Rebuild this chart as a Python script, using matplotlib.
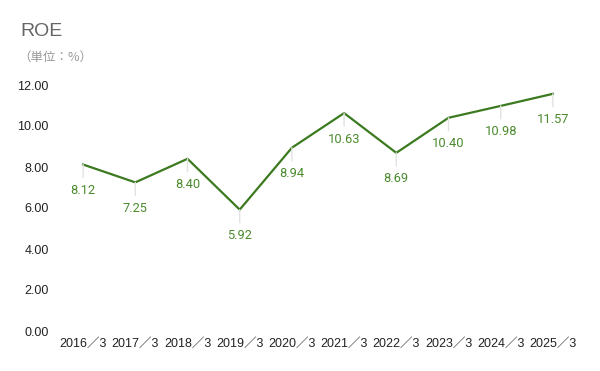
import matplotlib.pyplot as plt

years = ["2016／3", "2017／3", "2018／3", "2019／3", "2020／3",
         "2021／3", "2022／3", "2023／3", "2024／3", "2025／3"]
roe = [8.12, 7.25, 8.40, 5.92, 8.94, 10.63, 8.69, 10.40, 10.98, 11.57]
yticks = [0, 2, 4, 6, 8, 10, 12]

line_color = "#3b7a1f"
label_color = "#4a8a2c"
tick_font = ["Liberation Sans", "Noto Sans CJK JP"]

fig = plt.figure(figsize=(6, 3.71), dpi=100)
ax = fig.add_axes([57 / 600, 40 / 371, 522 / 600, 246 / 371])

x = list(range(len(years)))
ax.plot(x, roe, color=line_color, linewidth=1.6, zorder=3)

# short leader lines and value labels under each point
for xi, v in zip(x, roe):
    ax.annotate("", xy=(xi, v), xytext=(0, -13), textcoords="offset pixels",
                arrowprops=dict(arrowstyle="-", color="#e2e2e2", lw=1,
                                shrinkA=0, shrinkB=0))
    ax.annotate(f"{v:.2f}", xy=(xi, v), xytext=(0, -26), textcoords="offset pixels",
                ha="center", va="center", color=label_color,
                fontsize=9.3, family="Roboto")

ax.set_xlim(-0.5, len(years) - 0.5)
ax.set_ylim(0, 12)
ax.set_yticks(yticks)
ax.set_yticklabels([f"{t:.2f}" for t in yticks], family=tick_font, fontsize=9)
ax.set_xticks(x)
ax.set_xticklabels(years, family=tick_font, fontsize=9)
ax.tick_params(length=0, pad=6, colors="#222222")
ax.tick_params(axis="x", pad=5)
for s in ax.spines.values():
    s.set_visible(False)

fig.text(20 / 600, 1 - 31 / 371, "ROE", fontsize=14, color="#666666",
         family="Liberation Sans", va="center")
fig.text(18 / 600, 1 - 57 / 371, "（単位：%）", fontsize=9, color="#999999",
         family=["Noto Sans CJK JP", "DejaVu Sans"], va="center")

fig.savefig("out.png", dpi=100)
